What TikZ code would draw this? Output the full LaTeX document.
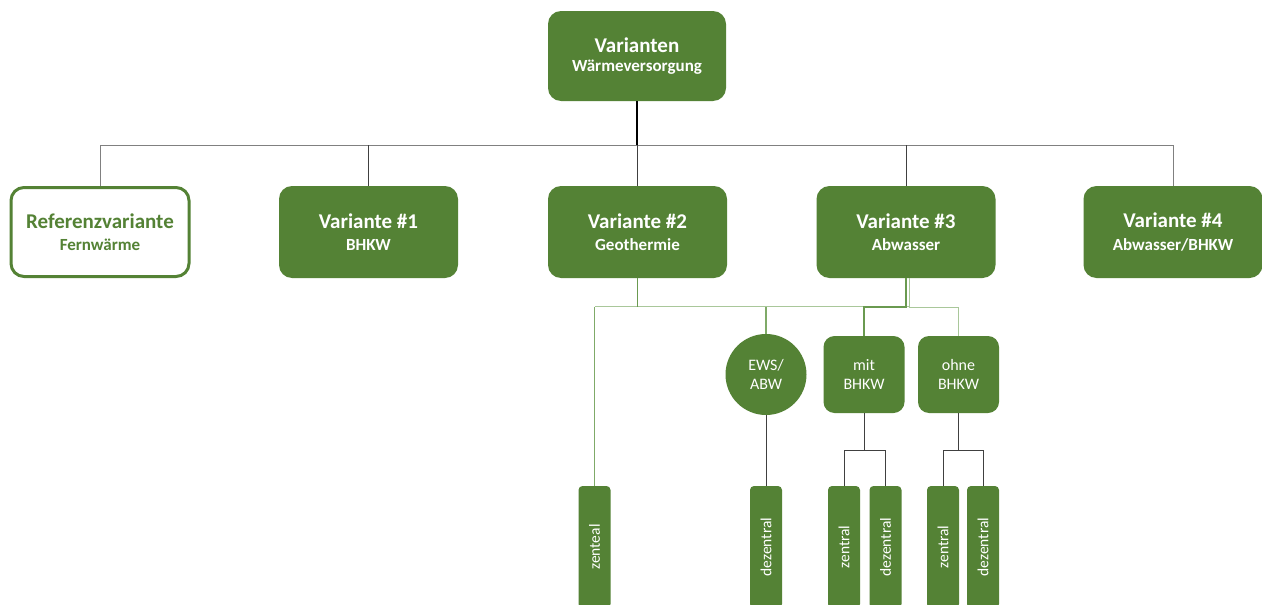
\documentclass[tikz,border=0pt]{standalone}
\usepackage{fontspec}
\setmainfont{Carlito}
\definecolor{gfill}{HTML}{548235}
\definecolor{gline}{HTML}{7FAA68}
\definecolor{gdark}{HTML}{6A9A50}
\definecolor{glight}{HTML}{A9C79A}
\definecolor{busgray}{HTML}{808080}
\definecolor{dropgray}{HTML}{404040}
\newcommand\mytitle[1]{{\fontsize{21}{22.6}\selectfont\bfseries #1}}
\newcommand\mysub[1]{{\fontsize{17}{22.6}\selectfont\bfseries #1}}
\begin{document}
\begin{tikzpicture}[x=1pt,y=-1pt,
  varbox/.style={fill=gfill, draw=none, rounded corners=13pt, text=white, align=center,
    inner sep=0pt, minimum width=179pt, minimum height=92pt,
    font=\fontsize{17}{22.6}\selectfont},
  refbox/.style={fill=white, draw=gfill, line width=3pt, rounded corners=13pt, text=gfill,
    align=center, inner sep=0pt, minimum width=178pt, minimum height=89pt,
    font=\fontsize{17}{22.6}\selectfont},
  topbox/.style={varbox, minimum width=178pt, minimum height=90pt,
    font=\fontsize{17}{18.7}\selectfont},
  midbox/.style={fill=gfill, draw=none, rounded corners=11pt, text=white, align=center,
    inner sep=0pt, minimum width=81pt, minimum height=77pt,
    font=\fontsize{16}{19.5}\selectfont},
  midcirc/.style={fill=gfill, draw=none, circle, text=white, align=center,
    inner sep=0pt, minimum size=81pt, font=\fontsize{16}{19.5}\selectfont},
  leafbox/.style={fill=gfill, draw=none, rounded corners=4pt, text=white, rotate=90,
    inner sep=0pt, minimum width=122pt, minimum height=32pt,
    font=\fontsize{15.5}{18}\selectfont},
  busline/.style={draw=busgray, line width=1pt},
  dropline/.style={draw=dropgray, line width=0.9pt},
  stemline/.style={draw=black, line width=1.7pt},
  grline/.style={draw=gline, line width=1.1pt},
  grdark/.style={draw=gdark, line width=1.2pt},
  grlight/.style={draw=glight, line width=1.3pt},
  leafline/.style={draw=dropgray, line width=1pt},
]
\clip (0,0) rectangle (1262,605);
\fill[white] (0,0) rectangle (1262,605);

% nodes
\node[topbox] (top) at (637,56) {\mytitle{Varianten}\\\mysub{Wärmeversorgung}};
\node[refbox] (ref) at (100,232) {\mytitle{Referenzvariante}\\\mysub{Fernwärme}};
\node[varbox] (v1) at (368.5,232) {\mytitle{Variante \#1}\\\mysub{BHKW}};
\node[varbox] (v2) at (637.5,232) {\mytitle{Variante \#2}\\\mysub{Geothermie}};
\node[varbox] (v3) at (906,232) {\mytitle{Variante \#3}\\\mysub{Abwasser}};
\node[varbox] (v4) at (1173,232) {\mytitle{Variante \#4}\\\mysub{Abwasser/BHKW}};

\node[midcirc] (ews) at (766,374.5) {EWS/\\ABW};
\node[midbox] (mit) at (864,374.5) {mit\\BHKW};
\node[midbox] (ohne) at (958.5,374.5) {ohne\\BHKW};

\node[leafbox] (z1) at (594.5,547) {zenteal};
\node[leafbox] (d1) at (766,547) {dezentral};
\node[leafbox] (z2) at (844,547) {zentral};
\node[leafbox] (d2) at (885.5,547) {dezentral};
\node[leafbox] (z3) at (943,547) {zentral};
\node[leafbox] (d3) at (983,547) {dezentral};

% top connectors
\coordinate (bus) at (637,145);
\draw[stemline] (top.south) -- (top.south |- bus);
\draw[busline] (ref.north) -- (ref.north |- bus) -- (v4.north |- bus) -- (v4.north);
\draw[dropline] (v1.north) -- (v1.north |- bus);
\draw[dropline] (v2.north) -- (v2.north |- bus);
\draw[dropline] (v3.north) -- (v3.north |- bus);

% green connectors
\coordinate (gbus) at (637,307);
\draw[grlight] ([yshift=0.5pt]z1.east |- gbus) -- ([xshift=3.5pt,yshift=0.5pt]v3.south |- gbus);
\draw[grline] (z1.east) -- ([yshift=0.5pt]z1.east |- gbus);
\draw[grline] (ews.north) -- (ews.north |- gbus);
\draw[grdark] (v2.south) -- (v2.south |- gbus);
\draw[grlight] ([xshift=3.5pt]v3.south) -- ([xshift=3.5pt,yshift=-0.5pt]v3.south |- gbus)
  -- ([yshift=-0.5pt]ohne.north |- gbus) -- (ohne.north);
\draw[grdark] (v3.south) -- (v3.south |- gbus) -- (mit.north |- gbus) -- (mit.north);

% leaf connectors
\coordinate (lbus) at (864,450);
\draw[leafline] (ews.south) -- (d1.east);
\draw[leafline] (mit.south) -- (mit.south |- lbus);
\draw[leafline] (z2.east) |- (d2.east |- lbus) -- (d2.east);
\draw[leafline] (ohne.south) -- (ohne.south |- lbus);
\draw[leafline] (z3.east) |- (d3.east |- lbus) -- (d3.east);
\end{tikzpicture}
\end{document}
